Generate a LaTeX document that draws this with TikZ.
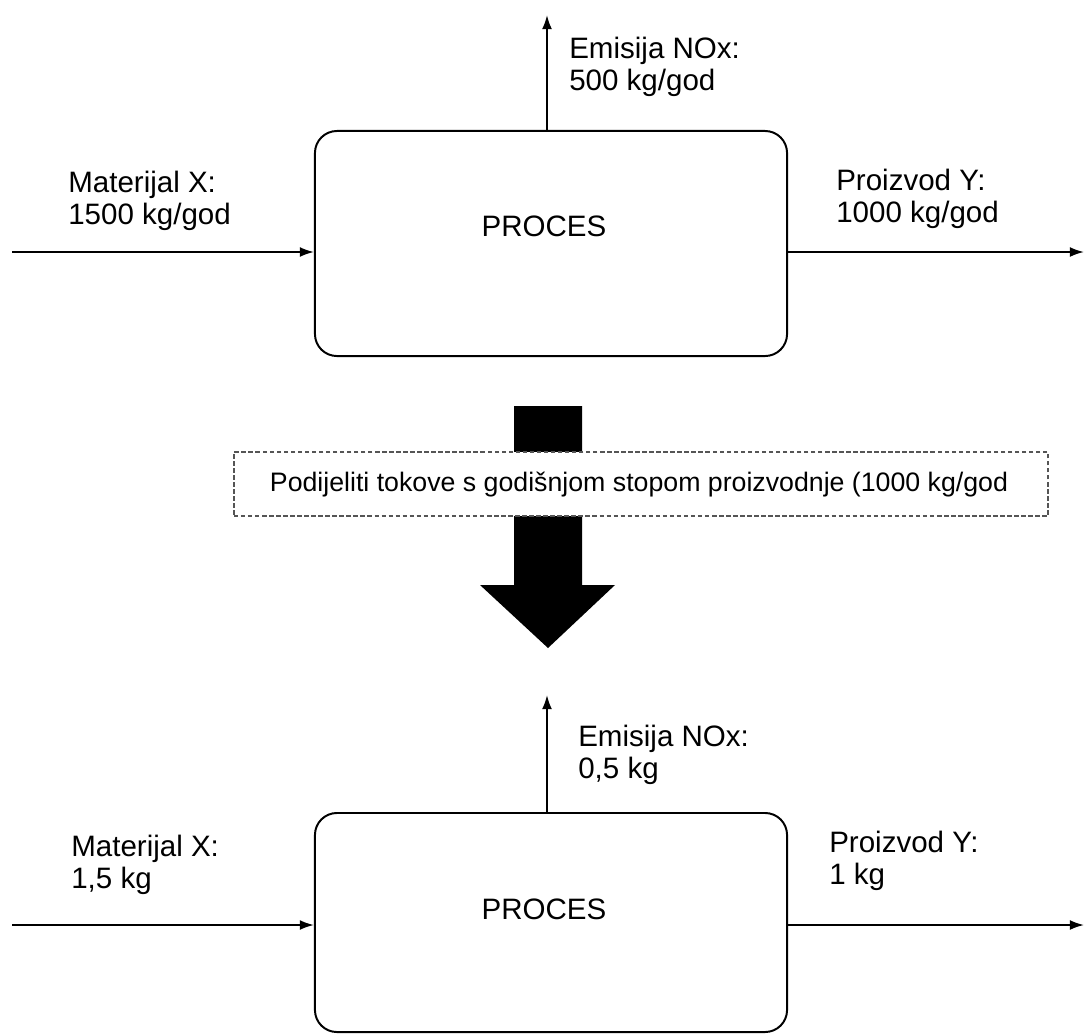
\documentclass[tikz,border=0pt]{standalone}
\usepackage{fontspec}
\setmainfont{Liberation Sans}
\usepackage{tikz}
\usetikzlibrary{arrows.meta,positioning}
\definecolor{dashgray}{HTML}{555555}

\begin{document}
\begin{tikzpicture}[
    x=0.025cm, y=-0.025cm,
    >={Latex[length=10pt,width=7pt]},
    every node/.style={font=\fontsize{21}{23}\selectfont},
    procbox/.style={
        rectangle,
        rounded corners=0.55cm,
        minimum width=11.8cm,
        draw,
        line width=1.4pt
    },
    flowlabel/.style={
        align=left,
        anchor=west,
        inner sep=0pt
    },
    flow/.style={->, line width=1.3pt},
    notebox/.style={
        rectangle,
        draw=dashgray,
        fill=white,
        dash pattern=on 3.2pt off 1.8pt,
        line width=1.1pt,
        minimum width=20.35cm,
        minimum height=1.6cm
    }
]
    \useasboundingbox (0,0) rectangle (1086,1035);

    % === TOP PROCESS (per year) ===
    \node[procbox, minimum height=5.625cm] (proc1) at (551,243.5) {};
    \node (proc1txt) at (544,226) {PROCES};

    \coordinate (in1) at (12,252);
    \coordinate (out1) at (1084,252);
    \coordinate (up1) at (547,15);

    \draw[flow] (in1) -- (in1 -| proc1.west);
    \draw[flow] (out1 -| proc1.east) -- (out1);
    \draw[flow] (up1 |- proc1.north) -- (up1);

    \node[flowlabel] (mat1) at (68,201) {Materijal X:\\1500 kg/god};
    \node[flowlabel] (prod1) at (836,199) {Proizvod Y:\\1000 kg/god};
    \node[flowlabel] (emis1) at (569,67) {Emisija NOx:\\500 kg/god};

    % === SCALING STEP ===
    \fill (514,406) -- (582,406) -- (582,585) -- (615,585)
        -- (548,648) -- (480,585) -- (514,585) -- cycle;
    \node[notebox] (scale) at (641,484) {};
    \node[font=\fontsize{19}{21}\selectfont] (scaletxt) at (639,485)
        {Podijeliti tokove s godišnjom stopom proizvodnje (1000 kg/god};

    % === BOTTOM PROCESS (per kg of product) ===
    \node[procbox, minimum height=5.475cm] (proc2) at (551,922.5) {};
    \node (proc2txt) at (544,909) {PROCES};

    \coordinate (in2) at (12,925);
    \coordinate (out2) at (1084,925);
    \coordinate (up2) at (547,695);

    \draw[flow] (in2) -- (in2 -| proc2.west);
    \draw[flow] (out2 -| proc2.east) -- (out2);
    \draw[flow] (up2 |- proc2.north) -- (up2);

    \node[flowlabel] (mat2) at (71,865) {Materijal X:\\1,5 kg};
    \node[flowlabel] (prod2) at (829,861) {Proizvod Y:\\1 kg};
    \node[flowlabel] (emis2) at (578,755) {Emisija NOx:\\0,5 kg};
\end{tikzpicture}
\end{document}
